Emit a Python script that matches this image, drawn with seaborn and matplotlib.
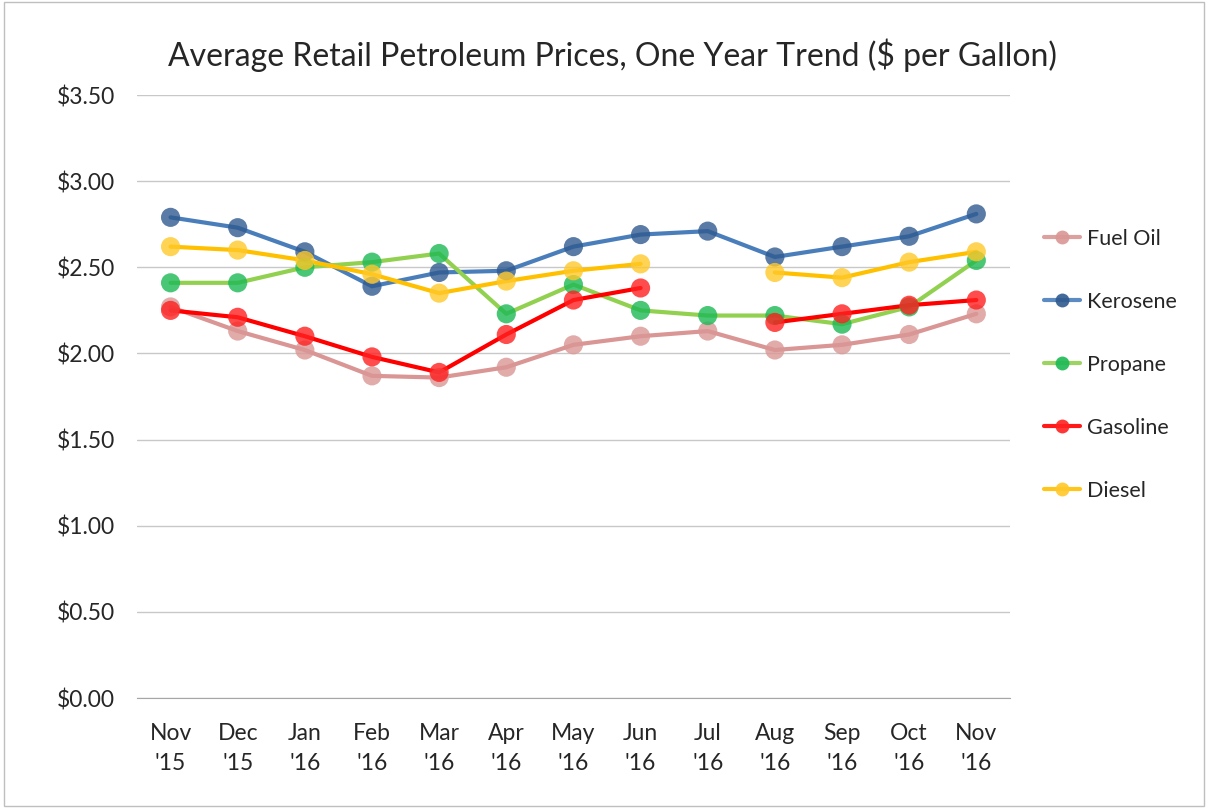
import numpy as np
import pandas as pd
import seaborn as sns
import matplotlib.pyplot as plt
from matplotlib.lines import Line2D
from matplotlib.patches import Rectangle
from matplotlib.ticker import FixedLocator

months = ["Nov\n'15", "Dec\n'15", "Jan\n'16", "Feb\n'16", "Mar\n'16", "Apr\n'16", "May\n'16",
          "Jun\n'16", "Jul\n'16", "Aug\n'16", "Sep\n'16", "Oct\n'16", "Nov\n'16"]

fuel_oil = [2.27, 2.13, 2.02, 1.87, 1.86, 1.92, 2.05, 2.10, 2.13, 2.02, 2.05, 2.11, 2.23]
kerosene = [2.79, 2.73, 2.59, 2.39, 2.47, 2.48, 2.62, 2.69, 2.71, 2.56, 2.62, 2.68, 2.81]
propane = [2.41, 2.41, 2.50, 2.53, 2.58, 2.23, 2.40, 2.25, 2.22, 2.22, 2.17, 2.27, 2.54]
gasoline = [2.25, 2.21, 2.10, 1.98, 1.89, 2.11, 2.31, 2.38, np.nan, 2.18, 2.23, 2.28, 2.31]
diesel = [2.62, 2.60, 2.54, 2.46, 2.35, 2.42, 2.48, 2.52, np.nan, 2.47, 2.44, 2.53, 2.59]

series = ["Fuel Oil", "Kerosene", "Propane", "Gasoline", "Diesel"]
values = [fuel_oil, kerosene, propane, gasoline, diesel]
line_colors = ["#D99694", "#4A7EBB", "#92D050", "#FF0000", "#FFC000"]
marker_colors = ["#D99694", "#2F5A8F", "#1DB954", "#FF2020", "#FFC829"]

rows = []
for name, vals in zip(series, values):
    seg = 0
    for i, v in enumerate(vals):
        if np.isnan(v):
            seg += 1
            continue
        rows.append({"month": i, "price": v, "fuel": name, "seg": f"{name}{seg}"})
df = pd.DataFrame(rows)

sns.set_style("white")
plt.rcParams['font.family'] = ['Lato', 'DejaVu Sans']

fig = plt.figure(figsize=(12.08, 8.08), dpi=100)
ax = fig.add_axes([0.1134, 0.1361, 0.836 - 0.1134, 0.8824 - 0.1361])

for name, lc, mc in zip(series, line_colors, marker_colors):
    d = df[df["fuel"] == name]
    sns.lineplot(data=d, x="month", y="price", units="seg", estimator=None,
                 color=lc, linewidth=3.0, ax=ax, legend=False, zorder=2)
    sns.scatterplot(data=d, x="month", y="price", color=mc, s=190, alpha=0.8,
                    edgecolor="none", ax=ax, legend=False, zorder=3)

ax.set_xlim(-0.5, 12.5)
ax.set_ylim(0, 3.5)
ax.set_yticks(np.arange(0, 3.51, 0.5))
ax.set_yticklabels([f"${v:.2f}" for v in np.arange(0, 3.51, 0.5)], fontsize=16.5)
ax.set_xticks(range(len(months)))
ax.set_xticklabels(months, fontsize=16.5, linespacing=1.5)
ax.xaxis.set_minor_locator(FixedLocator(np.arange(-0.5, 12.6, 1)))
ax.tick_params(axis="x", which="major", length=0, pad=18)
ax.tick_params(axis="x", which="minor", length=8, color="#A6A6A6", direction="out")
ax.tick_params(axis="y", length=0, pad=16)
ax.grid(axis="y", color="#C8C8C8", linewidth=1)
ax.set_axisbelow(True)
ax.set_xlabel("")
ax.set_ylabel("")
for s in ["left", "right", "top"]:
    ax.spines[s].set_visible(False)
ax.spines["bottom"].set_color("#A6A6A6")

fig.text(0.507, 0.932, "Average Retail Petroleum Prices, One Year Trend ($ per Gallon)",
         ha="center", va="center", fontsize=23)

handles = [Line2D([0], [0], color=lc, linewidth=3.0, marker="o", markersize=10,
                  markerfacecolor=mc, markeredgecolor="none", alpha=0.9)
           for lc, mc in zip(line_colors, marker_colors)]
fig.legend(handles, series, loc="upper left", bbox_to_anchor=(0.848, 0.741),
           frameon=False, fontsize=15.5, labelspacing=2.0, handlelength=1.7,
           handletextpad=0.3)

fig.patches.append(Rectangle((0.003, 0.003), 0.994, 0.994, transform=fig.transFigure,
                             fill=False, edgecolor="#BFBFBF", linewidth=1))

fig.savefig("out.png", dpi=100)
